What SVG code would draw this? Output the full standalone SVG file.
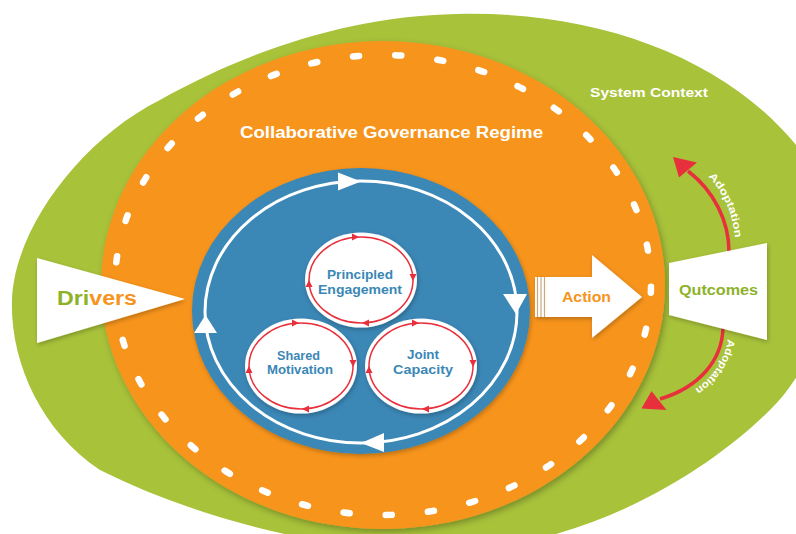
<svg xmlns="http://www.w3.org/2000/svg" width="796" height="534" viewBox="0 0 796 534">
  <style>
    .lbl { font-family: 'Liberation Sans', Arial, sans-serif; font-weight: bold; }
    .white { fill: #ffffff; }
    .blue-t { fill: #3a87b6; font-size: 13px; text-anchor: middle; }
    .track { fill: none; stroke: #ffffff; stroke-width: 3; }
    .track-head { fill: #ffffff; }
    .adapt { fill: none; stroke: #e8303c; stroke-width: 3.5; }
    .adapt-head { fill: #e8303c; }
    .adapt-t { fill: #ffffff; font-size: 10.5px; }
  </style>
  <defs>
    <filter id="shadow" x="-10%" y="-10%" width="125%" height="125%">
      <feDropShadow dx="2" dy="3" stdDeviation="3" flood-color="#000000" flood-opacity="0.28"/>
    </filter>
    <filter id="softShadow" x="-20%" y="-20%" width="140%" height="140%">
      <feDropShadow dx="1" dy="2" stdDeviation="2" flood-color="#000000" flood-opacity="0.25"/>
    </filter>
    <!-- a small self-reinforcing cycle: white disc, red ring, four clockwise heads -->
    <g id="cycle">
      <ellipse cx="0" cy="0" rx="56" ry="47.5" fill="#ffffff" filter="url(#softShadow)"/>
      <ellipse cx="0" cy="0" rx="52" ry="43" fill="none" stroke="#e8303c" stroke-width="1.5"/>
      <polygon points="-9,-46.5 -9,-39.5 -2,-43" fill="#e8303c"/>
      <polygon points="48.5,-6 55.5,-6 52,1" fill="#e8303c"/>
      <polygon points="8,39.5 8,46.5 1,43" fill="#e8303c"/>
      <polygon points="-55.5,7 -48.5,7 -52,0" fill="#e8303c"/>
    </g>
  </defs>

  <rect x="0" y="0" width="796" height="534" fill="#ffffff"/>

  <!-- outer system context: an egg-shaped field running off the right edge -->
  <g id="system-context">
    <path d="M457,14 C600,10 730,60 800,150 C850,250 830,350 770,410 C720,460 600,548 440,552 C330,552 200,520 100,470 C40,430 10,360 12,300 C14,230 80,140 160,100 C250,50 350,16 457,14 Z" fill="#a8c23a"/>
    <text class="lbl white" x="590" y="97" font-size="13" textLength="118" lengthAdjust="spacingAndGlyphs">System Context</text>
  </g>

  <!-- collaborative governance regime -->
  <g id="governance-regime">
    <ellipse cx="383" cy="285" rx="282" ry="244" fill="#f7941e" filter="url(#shadow)"/>
    <ellipse cx="383" cy="285" rx="268" ry="230" fill="none" stroke="#ffffff" stroke-width="6.5" stroke-linecap="round" pathLength="370" stroke-dasharray="1.45 8.55" stroke-dashoffset="-0.4"/>
    <text class="lbl white" x="240" y="138" font-size="16" textLength="303" lengthAdjust="spacingAndGlyphs">Collaborative Governance Regime</text>
  </g>

  <!-- collaboration dynamics -->
  <g id="collaboration-dynamics">
    <ellipse cx="361" cy="311" rx="169" ry="143" fill="#3a87b6" filter="url(#softShadow)"/>
  </g>

  <g id="connectors">
    <!-- clockwise loop round the dynamics -->
    <ellipse class="track" cx="361" cy="312" rx="156" ry="131"/>
    <polygon class="track-head" points="338,172.5 338,190.5 361,181.5"/>
    <polygon class="track-head" points="503,294 527,294 516,314"/>
    <polygon class="track-head" points="384,433 384,452 361,443"/>
    <polygon class="track-head" points="194,333 217,333 205.5,315"/>

    <!-- adaptation feedback from outcomes -->
    <path class="adapt" d="M729,252 C729,221 714,191 688,171"/>
    <polygon class="adapt-head" points="673,157 679,177.5 697,162.5"/>
    <path class="adapt" d="M723,328 C722,360 700,387 660,399"/>
    <polygon class="adapt-head" points="641.5,408.5 651.5,391 666.5,410"/>

    <path id="adaptUp" d="M703,172 C722,188 734,212 736,248" fill="none"/>
    <path id="adaptDown" d="M728,333 C727,361 711,382 682,397" fill="none"/>
    <text class="lbl adapt-t"><textPath href="#adaptUp" startOffset="7" textLength="68" lengthAdjust="spacingAndGlyphs">Adoptation</textPath></text>
    <text class="lbl adapt-t"><textPath href="#adaptDown" startOffset="6" textLength="62" lengthAdjust="spacingAndGlyphs">Adoptation</textPath></text>
  </g>

  <g id="principled-engagement">
    <use href="#cycle" x="361" y="280"/>
    <text class="lbl blue-t" x="360" y="278.5" textLength="66" lengthAdjust="spacingAndGlyphs">Principled</text>
    <text class="lbl blue-t" x="360" y="294" textLength="84" lengthAdjust="spacingAndGlyphs">Engagement</text>
  </g>

  <g id="shared-motivation">
    <use href="#cycle" x="301" y="366"/>
    <text class="lbl blue-t" x="298.5" y="359.5" textLength="43" lengthAdjust="spacingAndGlyphs">Shared</text>
    <text class="lbl blue-t" x="300" y="374" textLength="66" lengthAdjust="spacingAndGlyphs">Motivation</text>
  </g>

  <g id="joint-capacity">
    <use href="#cycle" x="421" y="366"/>
    <text class="lbl blue-t" x="423" y="359" textLength="32" lengthAdjust="spacingAndGlyphs">Joint</text>
    <text class="lbl blue-t" x="423" y="374" textLength="60" lengthAdjust="spacingAndGlyphs">Capacity</text>
  </g>

  <g id="drivers">
    <polygon points="37,258 185,299 37,343" fill="#ffffff" filter="url(#softShadow)"/>
    <text class="lbl" x="57" y="305" font-size="20" textLength="80" lengthAdjust="spacingAndGlyphs"><tspan fill="#8db22a">Dri</tspan><tspan fill="#f7941e">vers</tspan></text>
  </g>

  <g id="action">
    <polygon points="535,277 592,277 592,255 642,297 592,338 592,317 535,317" fill="#ffffff" filter="url(#softShadow)"/>
    <g stroke="#c9a87c" stroke-width="1.2">
      <line x1="537.5" y1="277" x2="537.5" y2="317"/>
      <line x1="541" y1="277" x2="541" y2="317"/>
      <line x1="544.5" y1="277" x2="544.5" y2="317"/>
    </g>
    <text class="lbl" x="562" y="302" font-size="14" fill="#f7941e" textLength="49" lengthAdjust="spacingAndGlyphs">Action</text>
  </g>

  <g id="outcomes">
    <polygon points="669,263 767,243 767,340 669,315" fill="#ffffff" filter="url(#softShadow)"/>
    <text class="lbl" x="679" y="295" font-size="14" fill="#8db22a" textLength="79" lengthAdjust="spacingAndGlyphs">Qutcomes</text>
  </g>
</svg>
